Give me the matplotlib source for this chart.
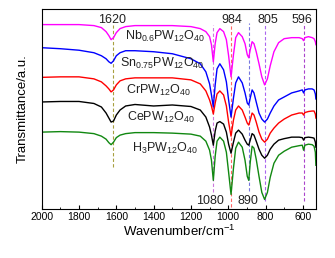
import matplotlib

matplotlib.use("Agg")
import matplotlib.pyplot as plt
from matplotlib.ticker import MultipleLocator

plt.rcParams["font.family"] = ["Liberation Sans", "DejaVu Sans"]
plt.rcParams["mathtext.fontset"] = "custom"
plt.rcParams["mathtext.rm"] = "Liberation Sans"
plt.rcParams["mathtext.it"] = "Liberation Sans:italic"

# wavenumber grid shared by all spectra (cm^-1)
wavenumber = [
    2000, 1900, 1800, 1720, 1680, 1655, 1640, 1628, 1615, 1600, 1580, 1550,
    1500, 1400, 1300, 1200, 1150, 1120, 1100, 1090, 1080, 1070, 1060, 1045,
    1025, 1010, 998, 985, 972, 960, 945, 925, 910, 898, 890, 882, 872, 862,
    850, 835, 820, 805, 790, 775, 755, 730, 700, 660, 620, 603, 596, 589,
    570, 550, 540, 533, 530,
]

# transmittance (a.u., stacked)
t_nb = [
    184, 184, 184, 183, 181, 177, 173, 169, 171, 176, 180, 182,
    183, 183, 183, 182, 180, 177, 172, 164, 147, 165, 176, 180,
    177, 169, 153, 132, 154, 171, 176, 172, 165, 154, 151, 159, 167, 165,
    157, 145, 132, 124, 130, 143, 157, 166, 170, 171, 171, 170, 168, 171,
    172, 171, 170, 167, 164,
]
t_sn = [
    161, 160, 158.5, 156, 153, 150, 147, 145.5, 148, 153, 156, 158,
    158, 157, 155, 150, 145, 137, 125, 114, 102, 124, 140, 145,
    139, 127, 109, 92, 111, 126, 132, 126, 116, 106, 104, 111, 119, 116,
    107, 96, 90, 87, 90, 96, 103, 109, 112, 116, 118, 119, 116, 119,
    120, 120, 119, 115, 110,
]
t_cr = [
    131.5, 132, 132, 130, 127, 123, 120, 117, 119, 124, 128, 130,
    131, 131, 131, 129, 125, 118, 109, 103, 95, 106, 115, 118,
    114, 103, 87, 73, 89, 99, 103, 99, 92, 86, 84, 89, 96, 94,
    87, 77, 70, 67, 70, 76, 81, 86, 90, 94, 96, 96, 94, 96.5,
    97.5, 98, 98, 95, 91,
]
t_ce = [
    107, 107.5, 107.5, 105.5, 102, 96, 91, 87, 88, 94, 99, 103,
    104.5, 103, 104, 102.5, 99, 92, 82, 74, 64, 78, 86, 87.5,
    85, 77, 65, 56, 67, 76, 79, 75, 69, 65, 64, 69, 75.5, 74,
    68, 60, 54, 51, 54, 60, 65, 69, 70.5, 72, 72, 71.5, 69, 71.5,
    72, 71.5, 71, 67, 62,
]
t_h3 = [
    77, 77.5, 77, 75.5, 73, 70, 66.5, 64.5, 67, 71.5, 74, 75.5,
    76.5, 76.5, 76, 75, 73, 68, 59, 49, 29, 53, 68, 72,
    68, 57, 37, 15, 41, 61, 67, 62, 49, 33, 29, 47, 63, 61,
    50, 33, 17, 10, 17, 32, 46, 54, 58, 62, 63.5, 64, 59, 64,
    65, 64.5, 63, 57, 44,
]

series = [t_nb, t_sn, t_cr, t_ce, t_h3]
series_colors = ["#ff00ff", "#0000ff", "#ff0000", "#000000", "#118811"]
series_labels = [
    r"Nb$_{0.6}$PW$_{12}$O$_{40}$",
    r"Sn$_{0.75}$PW$_{12}$O$_{40}$",
    r"CrPW$_{12}$O$_{40}$",
    r"CePW$_{12}$O$_{40}$",
    r"H$_3$PW$_{12}$O$_{40}$",
]
label_x = [1553, 1580, 1546, 1541, 1518]
label_y = [169, 142, 115.5, 88, 57]

# marked bands
band_pos = [1620, 1080, 984, 890, 805, 596]
band_text = ["1620", "1080", "984", "890", "805", "596"]
band_colors = ["#a8a040", "#cc77dd", "#ff6666", "#7777dd", "#aa66ee", "#aa44cc"]
band_lo = [42, 17, 2, 18, 8, 8]
band_hi = [184, 184, 186, 186, 186, 186]
text_x = [1625, 1098, 982, 895, 787, 605]
text_y = [189, 8, 189, 8, 189, 189]

fig = plt.figure(figsize=(3.35, 2.58), dpi=100)
ax = fig.add_axes([0.1245, 0.188, 0.8185, 0.779])

for pos, col, lo, hi in zip(band_pos, band_colors, band_lo, band_hi):
    ax.plot([pos, pos], [lo, hi], color=col, lw=0.8, ls=(0, (3, 2)), zorder=1)

for vals, col in zip(series, series_colors):
    ax.plot(wavenumber, vals, color=col, lw=1.0, zorder=2)

for x, y, txt in zip(label_x, label_y, series_labels):
    ax.text(x, y, txt, fontsize=9, ha="left", va="baseline", color="#222222")

for x, y, txt in zip(text_x, text_y, band_text):
    ax.text(x, y, txt, fontsize=9, ha="center", va="center", color="#222222")

ax.set_xlim(2000, 530)
ax.set_ylim(0, 200)
ax.set_yticks([])
ax.xaxis.set_major_locator(MultipleLocator(200))
ax.xaxis.set_minor_locator(MultipleLocator(100))
ax.tick_params(axis="x", which="both", direction="in", labelsize=7.5, pad=2)
ax.tick_params(axis="x", which="major", length=3)
ax.tick_params(axis="x", which="minor", length=1.8)
ax.set_xlabel(r"Wavenumber/cm$^{-1}$", fontsize=9.5, labelpad=1)
ax.set_ylabel("Transmittance/a.u.", fontsize=9.5, labelpad=9)

fig.savefig("out.png", dpi=100)
plt.close(fig)
